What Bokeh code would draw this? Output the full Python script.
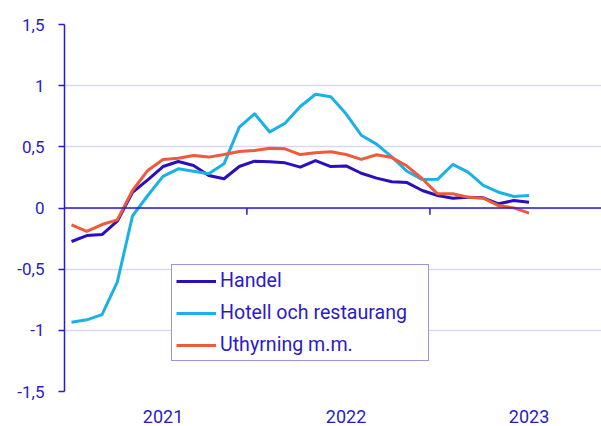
from bokeh.plotting import figure
from bokeh.models import Span, FixedTicker, CustomJSTickFormatter, Legend
from bokeh.embed import file_html
from bokeh.resources import INLINE

# Monthly data, Jan 2021 - Jul 2023
handel = [-0.274, -0.225, -0.217, -0.108, 0.129, 0.230, 0.339, 0.380, 0.348, 0.266, 0.239, 0.339,
          0.383, 0.378, 0.369, 0.334, 0.388, 0.339, 0.344, 0.284, 0.244, 0.214, 0.208, 0.143,
          0.102, 0.080, 0.088, 0.083, 0.034, 0.061, 0.047]
hotell = [-0.934, -0.914, -0.871, -0.606, -0.065, 0.102, 0.258, 0.320, 0.301, 0.280, 0.361, 0.661,
          0.770, 0.622, 0.693, 0.830, 0.930, 0.910, 0.770, 0.595, 0.522, 0.418, 0.300, 0.232,
          0.234, 0.356, 0.293, 0.184, 0.129, 0.094, 0.102]
uthyrning = [-0.138, -0.192, -0.135, -0.097, 0.143, 0.307, 0.397, 0.407, 0.429, 0.416, 0.437, 0.462,
             0.470, 0.489, 0.484, 0.437, 0.451, 0.459, 0.437, 0.397, 0.435, 0.412, 0.343, 0.239,
             0.116, 0.116, 0.088, 0.080, 0.020, 0.001, -0.042]
series_names = ["Handel", "Hotell och restaurang", "Uthyrning m.m."]
year_labels = ["2021", "2022", "2023"]
y_ticks = [-1.5, -1.0, -0.5, 0.0, 0.5, 1.0, 1.5]

TXT = "#2a1bc8"
FONT = "Roboto"
colors = ["#2b0fbe", "#1bb1e7", "#f05a3c"]

x = list(range(len(handel)))
year_centers = [6 + 12 * i for i in range(len(year_labels))]
year_bounds = [12 * i - 0.5 for i in range(1, len(year_labels))]

p = figure(width=601, height=426, output_backend="svg", toolbar_location=None,
           x_range=(-0.46, 34.75), y_range=(-1.5, 1.5),
           min_border_left=64, min_border_right=0, min_border_top=24, min_border_bottom=35)
p.outline_line_color = None
p.background_fill_color = "white"
p.border_fill_color = "white"

# grid
p.xgrid.grid_line_color = None
p.ygrid.grid_line_color = "#d9d9f1"
p.ygrid.grid_line_width = 1.5
p.ygrid.ticker = FixedTicker(ticks=y_ticks)

# y axis
p.yaxis.ticker = FixedTicker(ticks=y_ticks, minor_ticks=[])
p.yaxis.formatter = CustomJSTickFormatter(code="return tick.toString().replace('.', ',');")
p.yaxis.axis_line_color = TXT
p.yaxis.axis_line_width = 1.5
p.yaxis.major_tick_line_color = TXT
p.yaxis.major_tick_line_width = 1.5
p.yaxis.major_tick_out = 6
p.yaxis.major_tick_in = 0
p.yaxis.minor_tick_line_color = None
p.yaxis.major_label_text_font = FONT
p.yaxis.major_label_text_font_size = "17px"
p.yaxis.major_label_text_color = TXT
p.yaxis.major_label_standoff = 14

# x axis: labels only
p.xaxis.ticker = FixedTicker(ticks=year_centers, minor_ticks=[])
p.xaxis.major_label_overrides = {c: l for c, l in zip(year_centers, year_labels)}
p.xaxis.axis_line_color = None
p.xaxis.major_tick_line_color = None
p.xaxis.minor_tick_line_color = None
p.xaxis.major_label_text_font = FONT
p.xaxis.major_label_text_font_size = "18px"
p.xaxis.major_label_text_color = TXT
p.xaxis.major_label_standoff = 12

# zero line with year boundary ticks
p.add_layout(Span(location=0, dimension="width", line_color=TXT, line_width=1.5))
p.segment(x0=year_bounds, y0=[0] * len(year_bounds), x1=year_bounds,
          y1=[-0.055] * len(year_bounds), line_color=TXT, line_width=1.5)

renderers = []
for data, name, col in zip([handel, hotell, uthyrning], series_names, colors):
    r = p.line(x, data, line_color=col, line_width=3, line_join="round")
    renderers.append((name, [r]))

legend = Legend(items=renderers, location=(107, 30))
legend.border_line_color = "#3a2bcc"
legend.border_line_width = 1.5
legend.background_fill_color = "white"
legend.background_fill_alpha = 1
legend.label_text_font = FONT
legend.label_text_font_size = "19.6px"
legend.label_text_color = TXT
legend.glyph_width = 40
legend.glyph_height = 20
legend.label_height = 20
legend.label_width = 204
legend.spacing = 9
legend.padding = 4
legend.margin = 0
legend.label_standoff = 4
p.add_layout(legend, "center")

open("out.html", "w").write(file_html(p, INLINE))
